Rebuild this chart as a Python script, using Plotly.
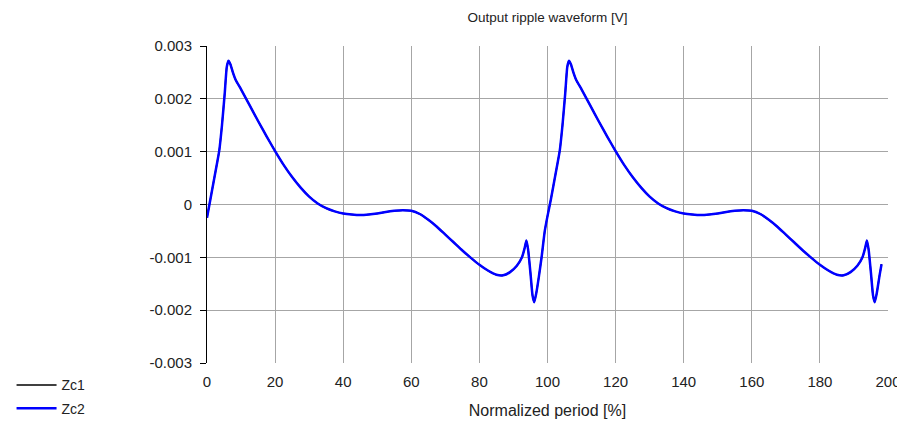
import plotly.graph_objects as go

x_pct = [0, 1, 2, 3, 3.6, 4.4, 5.2, 5.8, 6.3, 6.9, 7.6, 8.4, 10, 12.5, 15, 17.5, 20, 22.5, 25, 27.5,
         30, 32.5, 35, 37.5, 40, 42.5, 45, 47.5, 50, 52.5, 55, 57.5, 60, 62.5, 65, 67.5, 70, 72.5,
         75, 77.5, 80, 82.5, 85, 87, 89, 91, 92.5, 93.3, 93.8, 94.3, 95, 95.6, 96.1, 96.7, 97.5,
         98.3, 99.2,
         100, 101, 102, 103, 103.6, 104.4, 105.2, 105.8, 106.3, 106.9, 107.6, 108.4, 110, 112.5,
         115, 117.5, 120, 122.5, 125, 127.5, 130, 132.5, 135, 137.5, 140, 142.5, 145, 147.5, 150,
         152.5, 155, 157.5, 160, 162.5, 165, 167.5, 170, 172.5, 175, 177.5, 180, 182.5, 185, 187,
         189, 191, 192.5, 193.3, 193.8, 194.3, 195, 195.6, 196.1, 196.7, 197.5, 198.1]

ripple_v = [-0.00025, 0.0001, 0.00045, 0.0008, 0.00102, 0.0015, 0.0021, 0.0026, 0.00272, 0.00265,
            0.0025, 0.00236, 0.00218, 0.00188, 0.00158, 0.00129, 0.00101, 0.00075, 0.00052, 0.00032,
            0.00015, 0.00002, -0.00007, -0.00013, -0.00017, -0.00019, -0.0002, -0.00019, -0.00017,
            -0.00014, -0.00012, -0.00011, -0.00012, -0.00018, -0.00029, -0.00042, -0.00057, -0.00072,
            -0.00087, -0.00101, -0.00114, -0.00125, -0.00133, -0.00134, -0.00128, -0.00116, -0.001,
            -0.00082, -0.00068, -0.00085, -0.0013, -0.00172, -0.00185, -0.00168, -0.00135, -0.00098,
            -0.0005,
            -0.00022, 0.0001, 0.00045, 0.0008, 0.00102, 0.0015, 0.0021, 0.0026, 0.00272, 0.00265,
            0.0025, 0.00236, 0.00218, 0.00188, 0.00158, 0.00129, 0.00101, 0.00075, 0.00052, 0.00032,
            0.00015, 0.00002, -0.00007, -0.00013, -0.00017, -0.00019, -0.0002, -0.00019, -0.00017,
            -0.00014, -0.00012, -0.00011, -0.00012, -0.00018, -0.00029, -0.00042, -0.00057, -0.00072,
            -0.00087, -0.00101, -0.00114, -0.00125, -0.00133, -0.00134, -0.00128, -0.00116, -0.001,
            -0.00082, -0.00068, -0.00085, -0.0013, -0.00172, -0.00185, -0.00168, -0.00135, -0.00113]

series_names = ["Zc1", "Zc2"]
series_colors = ["#000000", "#0000ff"]

y_tickvals = [0.003, 0.002, 0.001, 0, -0.001, -0.002, -0.003]
y_ticktext = ["0.003", "0.002", "0.001", "0", "-0.001", "-0.002", "-0.003"]
x_tickvals = [0, 20, 40, 60, 80, 100, 120, 140, 160, 180, 200]

FONT = "Liberation Sans, Arial, sans-serif"
TXT = "#222222"

fig = go.Figure()
for i, (name, col) in enumerate(zip(series_names, series_colors)):
    fig.add_trace(go.Scatter(
        x=x_pct, y=ripple_v, mode="lines", name=name,
        line=dict(color=col, width=2.5 if i == 1 else 1.5, shape="spline", smoothing=0.5),
        legendgroup=name,
    ))

fig.update_layout(
    width=897, height=422,
    margin=dict(l=207, r=9, t=46, b=59, autoexpand=False),
    paper_bgcolor="white", plot_bgcolor="white",
    font=dict(family=FONT, size=15, color=TXT),
    title=dict(text="Output ripple waveform [V]", x=0.5, xref="paper", xanchor="center",
               y=1 - 17 / 422, yref="container", yanchor="middle",
               font=dict(family=FONT, size=13.5, color=TXT)),
    showlegend=True,
    legend=dict(x=-0.287, xanchor="left", y=-0.02, yanchor="top", bgcolor="rgba(0,0,0,0)",
                traceorder="grouped", tracegroupgap=2, itemwidth=40,
                font=dict(family=FONT, size=14, color=TXT)),
    xaxis=dict(range=[0, 200], tickvals=x_tickvals, showgrid=True, gridcolor="#a6a6a6",
               gridwidth=1, zeroline=False, showline=False, ticks="",
               ticklabeloverflow="allow", ticklabelstandoff=8,
               tickfont=dict(family=FONT, size=15, color=TXT),
               title=dict(text="Normalized period [%]", standoff=15,
                          font=dict(family=FONT, size=16, color=TXT))),
    yaxis=dict(range=[-0.003, 0.003], tickvals=y_tickvals, ticktext=y_ticktext, showgrid=True,
               gridcolor="#a6a6a6", gridwidth=1, zeroline=False, showline=True,
               linecolor="black", linewidth=1, ticks="outside", ticklen=6, tickcolor="black",
               ticklabelstandoff=5, tickfont=dict(family=FONT, size=15, color=TXT)),
)

fig.write_html("out.html", config={"displayModeBar": False},
               post_script="document.body.style.margin='0';document.body.style.overflow='hidden';")
